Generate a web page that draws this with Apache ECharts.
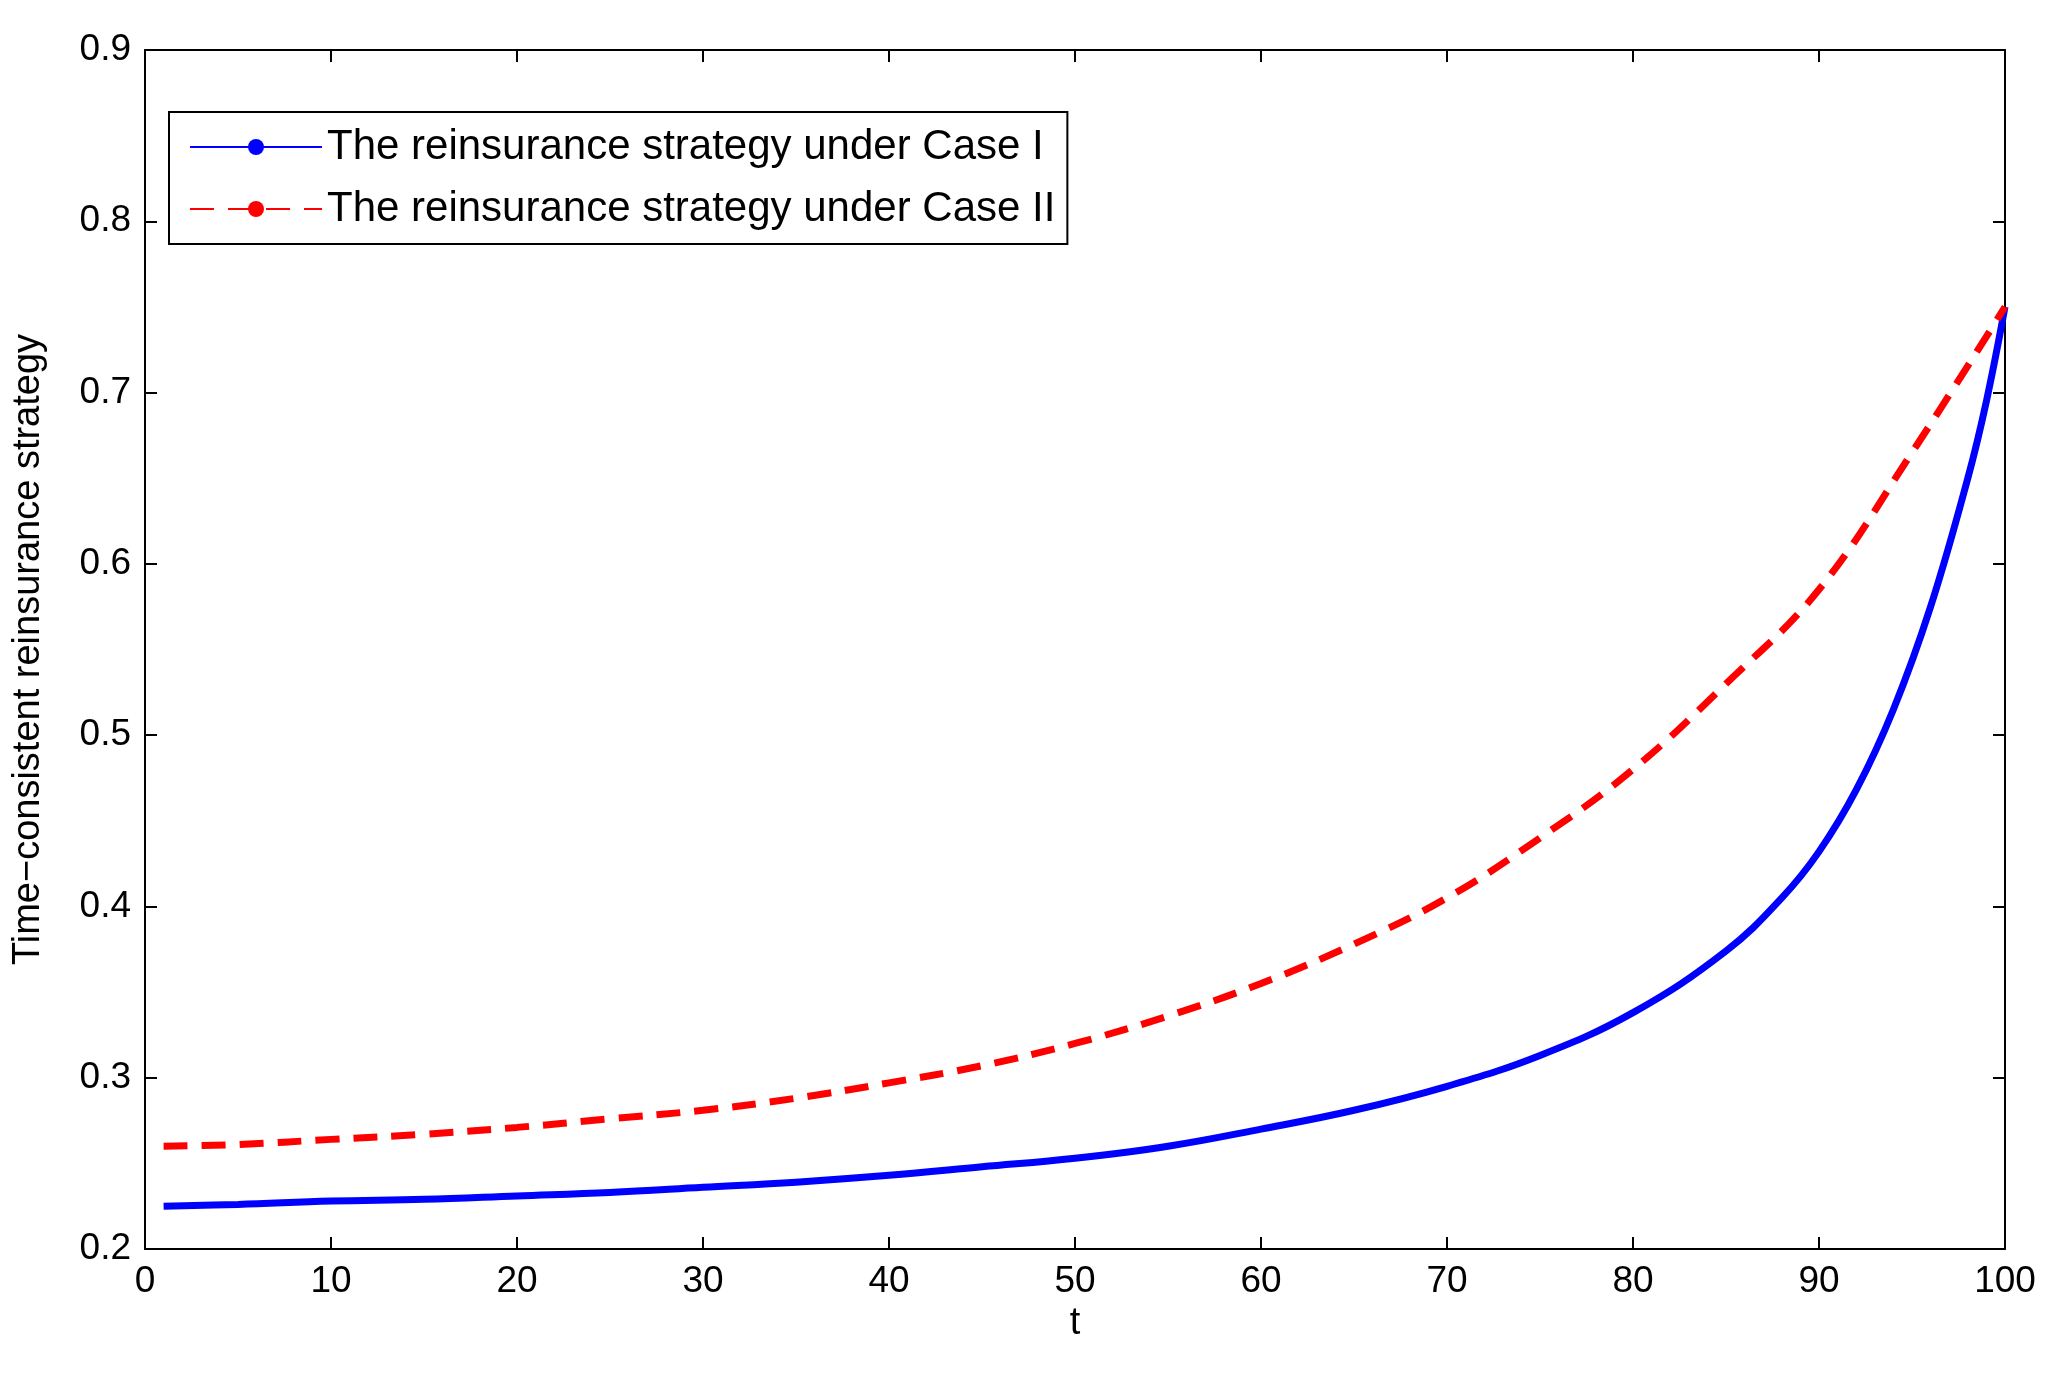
<!DOCTYPE html><html><head><meta charset="utf-8"><script src="https://cdn.jsdelivr.net/npm/echarts@6/dist/echarts.min.js"></script>
<style>html,body{margin:0;background:#fff}#c{width:2062px;height:1377px}</style></head><body><div id="c"></div><script>
const tA=[1,5,10,15,20,25,30,35,40,45,50,55,60,65,70,75,80,85,88,90,92,94,96,98,99,100];
const caseI=[0.225,0.226,0.228,0.229,0.231,0.233,0.236,0.239,0.243,0.248,0.253,0.260,0.270,0.281,0.295,0.313,0.338,0.374,0.405,0.432,0.468,0.515,0.575,0.650,0.695,0.750];
const tB=[1,5,10,15,20,25,30,35,40,45,50,55,60,65,70,75,80,85,90,95,100];
const caseII=[0.260,0.261,0.264,0.267,0.271,0.276,0.281,0.288,0.297,0.307,0.320,0.336,0.355,0.378,0.405,0.440,0.480,0.530,0.585,0.665,0.750];
const F='Liberation Sans, Arial, sans-serif';
const ax={axisLine:{show:true,onZero:false,lineStyle:{color:'#000',width:2}},axisTick:{show:true,inside:true,length:12,lineStyle:{color:'#000',width:2}},splitLine:{show:false}};
const ch=echarts.init(document.getElementById('c'));
ch.setOption({animation:false,
grid:{left:145,right:57,top:50,bottom:128},
legend:{left:169,top:112,orient:'vertical',itemWidth:132,itemHeight:20,itemGap:20,padding:[14,12,14,20],borderColor:'#000',borderWidth:2,textStyle:{fontFamily:F,fontSize:42,color:'#000'},
 data:['The reinsurance strategy under Case I','The reinsurance strategy under Case II']},
xAxis:[Object.assign({type:'value',min:0,max:100,interval:10,name:'t',nameLocation:'middle',nameGap:54,nameTextStyle:{fontFamily:F,fontSize:38,color:'#000'},axisLabel:{fontFamily:F,fontSize:37,color:'#000',margin:14}},ax),
 Object.assign({type:'value',min:0,max:100,interval:10,position:'top',axisLabel:{show:false}},ax)],
yAxis:[Object.assign({type:'value',min:0.2,max:0.9,interval:0.1,name:'Time−consistent reinsurance strategy',nameLocation:'middle',nameGap:97,nameTextStyle:{fontFamily:F,fontSize:38,color:'#000'},axisLabel:{fontFamily:F,fontSize:37,color:'#000',margin:14,formatter:v=>v.toFixed(1)}},ax),
 Object.assign({type:'value',min:0.2,max:0.9,interval:0.1,position:'right',axisLabel:{show:false}},ax)],
series:[
{name:'The reinsurance strategy under Case I',type:'line',smooth:0.4,symbol:'none',color:'#0000ff',lineStyle:{width:7,color:'#0000ff'},data:tA.map((t,i)=>[t,caseI[i]])},
{name:'The reinsurance strategy under Case II',type:'line',smooth:0.4,symbol:'none',color:'#ff0000',lineStyle:{width:7,color:'#ff0000',type:[24,14]},data:tB.map((t,i)=>[t,caseII[i]])}
]});
</script></body></html>
